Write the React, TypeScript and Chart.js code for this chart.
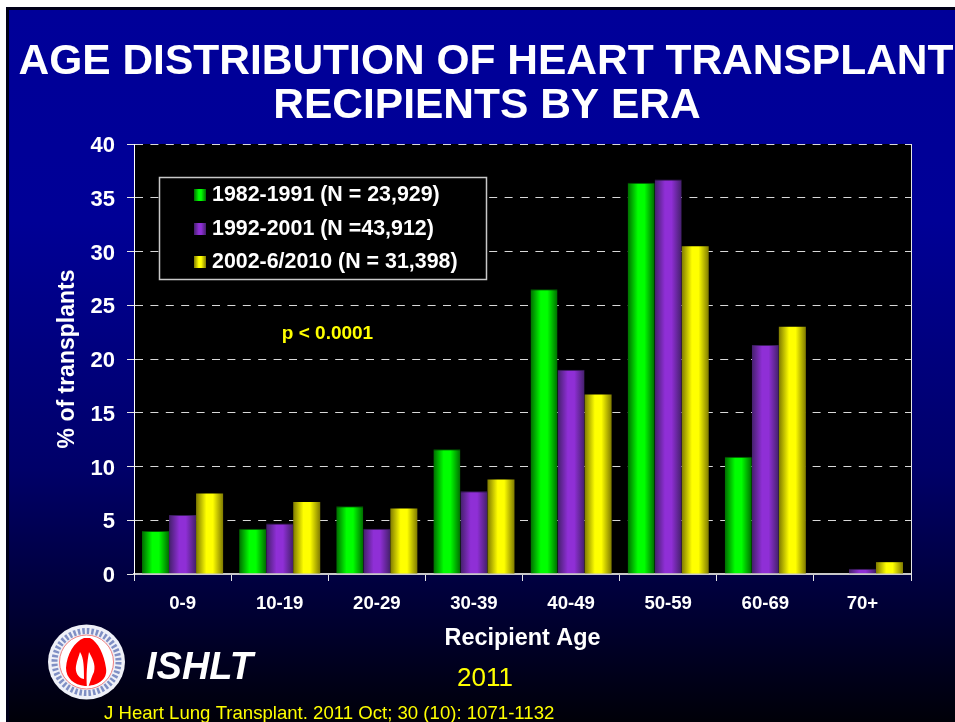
import React, { useEffect, useRef } from "react";
import { Chart, registerables } from "chart.js";

Chart.register(...registerables);

const categories = ["0-9", "10-19", "20-29", "30-39", "40-49", "50-59", "60-69", "70+"];
const era1 = [4.0, 4.2, 6.3, 11.6, 26.5, 36.4, 10.9, 0.05];
const era2 = [5.5, 4.7, 4.2, 7.7, 19.0, 36.7, 21.3, 0.5];
const era3 = [7.5, 6.7, 6.1, 8.8, 16.7, 30.5, 23.0, 1.1];
const seriesLabels = ["1982-1991 (N = 23,929)", "1992-2001 (N =43,912)", "2002-6/2010 (N = 31,398)"];
const titleLines = ["AGE DISTRIBUTION OF HEART TRANSPLANT", "RECIPIENTS BY ERA"];
const FONT = '"Liberation Sans", Arial, sans-serif';
const CAT_PCT = 0.835;

const palette = [
  { edge: "#006b00", mid: "#00ff00", top: "#005500" },
  { edge: "#43206a", mid: "#8f2fd6", top: "#3c1c60" },
  { edge: "#7f7a00", mid: "#ffff00", top: "#7f7a00" },
];

function barFill(di: number) {
  return (c: any) => {
    const chart = c.chart;
    const p = palette[di];
    const x = chart.scales?.x;
    if (!chart.chartArea || !x || c.dataIndex === undefined) return p.mid;
    const bw = (x.width / categories.length) * CAT_PCT / 3;
    const left = x.getPixelForValue(c.dataIndex) - 1.5 * bw + di * bw;
    const g = chart.ctx.createLinearGradient(left, 0, left + bw, 0);
    g.addColorStop(0, p.edge);
    g.addColorStop(0.38, p.mid);
    g.addColorStop(0.62, p.mid);
    g.addColorStop(1, p.edge);
    return g;
  };
}

function legendSwatch(ctx: CanvasRenderingContext2D, x: number, y: number, p: any) {
  const g = ctx.createLinearGradient(x, 0, x + 12, 0);
  g.addColorStop(0, p.edge);
  g.addColorStop(0.4, p.mid);
  g.addColorStop(0.6, p.mid);
  g.addColorStop(1, p.edge);
  ctx.fillStyle = g;
  ctx.fillRect(x, y, 12, 12);
}

function drawLogo(ctx: CanvasRenderingContext2D) {
  const cx = 86.5, cy = 662;
  ctx.save();
  ctx.fillStyle = "#eef0f8";
  ctx.beginPath();
  ctx.ellipse(cx, cy, 38.5, 37.5, 0, 0, Math.PI * 2);
  ctx.fill();
  ctx.strokeStyle = "#7f8fc4";
  ctx.lineWidth = 6;
  ctx.setLineDash([2.5, 2]);
  ctx.beginPath();
  ctx.ellipse(cx, cy, 32, 31, 0, 0, Math.PI * 2);
  ctx.stroke();
  ctx.setLineDash([]);
  ctx.fillStyle = "#ffffff";
  ctx.beginPath();
  ctx.ellipse(cx, cy, 27, 27, 0, 0, Math.PI * 2);
  ctx.fill();
  ctx.strokeStyle = "#f08080";
  ctx.lineWidth = 1;
  ctx.stroke();
  // lungs
  ctx.fillStyle = "#ff0000";
  ctx.beginPath();
  ctx.moveTo(84, 638);
  ctx.bezierCurveTo(74, 642, 67, 654, 66, 668);
  ctx.bezierCurveTo(66, 678, 74, 685, 85, 686);
  ctx.bezierCurveTo(97, 686, 108, 680, 106, 668);
  ctx.bezierCurveTo(104, 654, 98, 642, 90, 638);
  ctx.closePath();
  ctx.fill();
  ctx.fillStyle = "#ffffff";
  ctx.beginPath();
  ctx.moveTo(80, 652);
  ctx.bezierCurveTo(84, 658, 84, 668, 84, 679);
  ctx.bezierCurveTo(78, 678, 75, 672, 76, 666);
  ctx.bezierCurveTo(77, 660, 79, 656, 80, 652);
  ctx.closePath();
  ctx.fill();
  ctx.beginPath();
  ctx.moveTo(89, 652);
  ctx.bezierCurveTo(92, 658, 96, 664, 94, 672);
  ctx.bezierCurveTo(92, 676, 90, 682, 88, 688);
  ctx.lineTo(87, 688);
  ctx.bezierCurveTo(86, 676, 87, 662, 89, 652);
  ctx.closePath();
  ctx.fill();
  ctx.restore();
}

const slidePlugin = {
  id: "slide",
  beforeDraw(chart: any) {
    const { ctx, chartArea: a } = chart;
    ctx.save();
    const g = ctx.createLinearGradient(0, 7, 0, 722);
    g.addColorStop(0, "#000099");
    g.addColorStop(0.3, "#000096");
    g.addColorStop(0.65, "#000068");
    g.addColorStop(0.8, "#000040");
    g.addColorStop(1, "#000008");
    ctx.fillStyle = "#ffffff";
    ctx.fillRect(0, 0, 955, 722);
    ctx.fillStyle = "#000018";
    ctx.fillRect(6, 7, 949, 715);
    ctx.fillStyle = g;
    ctx.fillRect(9, 10, 946, 712);
    ctx.fillStyle = "#000000";
    ctx.fillRect(a.left, a.top, a.right - a.left, a.bottom - a.top);
    ctx.restore();
  },
  afterDatasetsDraw(chart: any) {
    const { ctx, chartArea: a } = chart;
    ctx.save();
    ctx.strokeStyle = "#e6e6e6";
    ctx.lineWidth = 1;
    ctx.beginPath();
    ctx.moveTo(a.right + 0.5, a.top);
    ctx.lineTo(a.right + 0.5, a.bottom + 7);
    ctx.stroke();

    ctx.textBaseline = "alphabetic";
    ctx.textAlign = "center";
    ctx.fillStyle = "#ffffff";
    ctx.font = `bold 42.5px ${FONT}`;
    ctx.fillText(titleLines[0], 486, 74);
    ctx.fillText(titleLines[1], 487, 118);

    // legend box
    ctx.fillStyle = "#000000";
    ctx.fillRect(160, 177, 327, 102);
    ctx.strokeStyle = "#c8c8c8";
    ctx.lineWidth = 1.5;
    ctx.strokeRect(159.5, 177.5, 327, 102);
    ctx.textAlign = "left";
    ctx.font = `bold 21.4px ${FONT}`;
    chart.data.datasets.forEach((d: any, i: number) => {
      const y = [201, 235, 268][i];
      legendSwatch(ctx, 194, y - 12, palette[i]);
      ctx.fillStyle = "#ffffff";
      ctx.fillText(d.label, 212, y);
    });

    ctx.textAlign = "center";
    ctx.fillStyle = "#ffff00";
    ctx.font = `bold 19px ${FONT}`;
    ctx.fillText("p < 0.0001", 327.5, 339);

    ctx.fillStyle = "#ffffff";
    ctx.font = `italic bold 38px ${FONT}`;
    ctx.textAlign = "left";
    ctx.fillText("ISHLT", 146, 679);

    ctx.fillStyle = "#ffff00";
    ctx.font = `26px ${FONT}`;
    ctx.fillText("2011", 457, 686);
    ctx.font = `18.6px ${FONT}`;
    ctx.fillText("J Heart Lung Transplant. 2011 Oct; 30 (10): 1071-1132", 104, 719);

    drawLogo(ctx);
    ctx.restore();
  },
};

export default function App() {
  const ref = useRef<HTMLCanvasElement>(null);
  useEffect(() => {
    document.body.style.margin = "0";
    document.body.style.background = "#ffffff";
    const series = [era1, era2, era3];
    const chart = new Chart(ref.current!, {
      type: "bar",
      data: {
        labels: categories,
        datasets: series.map((data, i) => ({
          label: seriesLabels[i],
          data,
          backgroundColor: barFill(i),
          borderColor: palette[i].top,
          borderWidth: { top: i === 2 ? 0 : 1, left: 0, right: 0, bottom: 0 },
          barPercentage: 1,
          categoryPercentage: CAT_PCT,
        })),
      },
      options: {
        responsive: false,
        animation: false,
        layout: { padding: { left: 54, top: 144, right: 44, bottom: 69 } },
        plugins: { legend: { display: false }, title: { display: false }, tooltip: { enabled: false } },
        scales: {
          x: {
            afterFit: (s: any) => { s.height = 79; },
            grid: { drawOnChartArea: false, color: "#e6e6e6", tickLength: 7, lineWidth: 1 },
            border: { color: "#c8c8c8", width: 2 },
            ticks: { color: "#ffffff", font: { family: FONT, size: 18.6, weight: "bold" }, padding: 12, maxRotation: 0 },
            title: { display: true, text: "Recipient Age", color: "#ffffff", font: { family: FONT, size: 23.4, weight: "bold" }, padding: { top: 8, bottom: 0 } },
          },
          y: {
            min: 0,
            max: 40,
            afterFit: (s: any) => { s.width = 80; },
            grid: { color: "#d8d8d8", lineWidth: 1, tickLength: 7, tickColor: "#e6e6e6", tickBorderDash: [] },
            border: { color: "#ffffff", width: 1, dash: [8, 7.4] },
            ticks: { stepSize: 5, color: "#ffffff", font: { family: FONT, size: 22, weight: "bold" }, padding: 12, labelOffset: 2 },
            title: { display: true, text: "% of transplants", color: "#ffffff", font: { family: FONT, size: 23, weight: "bold" }, padding: 0 },
          },
        },
      },
      plugins: [slidePlugin],
    } as any);
    return () => chart.destroy();
  }, []);
  return (
    <div style={{ width: 955, height: 722, overflow: "hidden" }}>
      <canvas ref={ref} width={955} height={722} style={{ display: "block" }} />
    </div>
  );
}
